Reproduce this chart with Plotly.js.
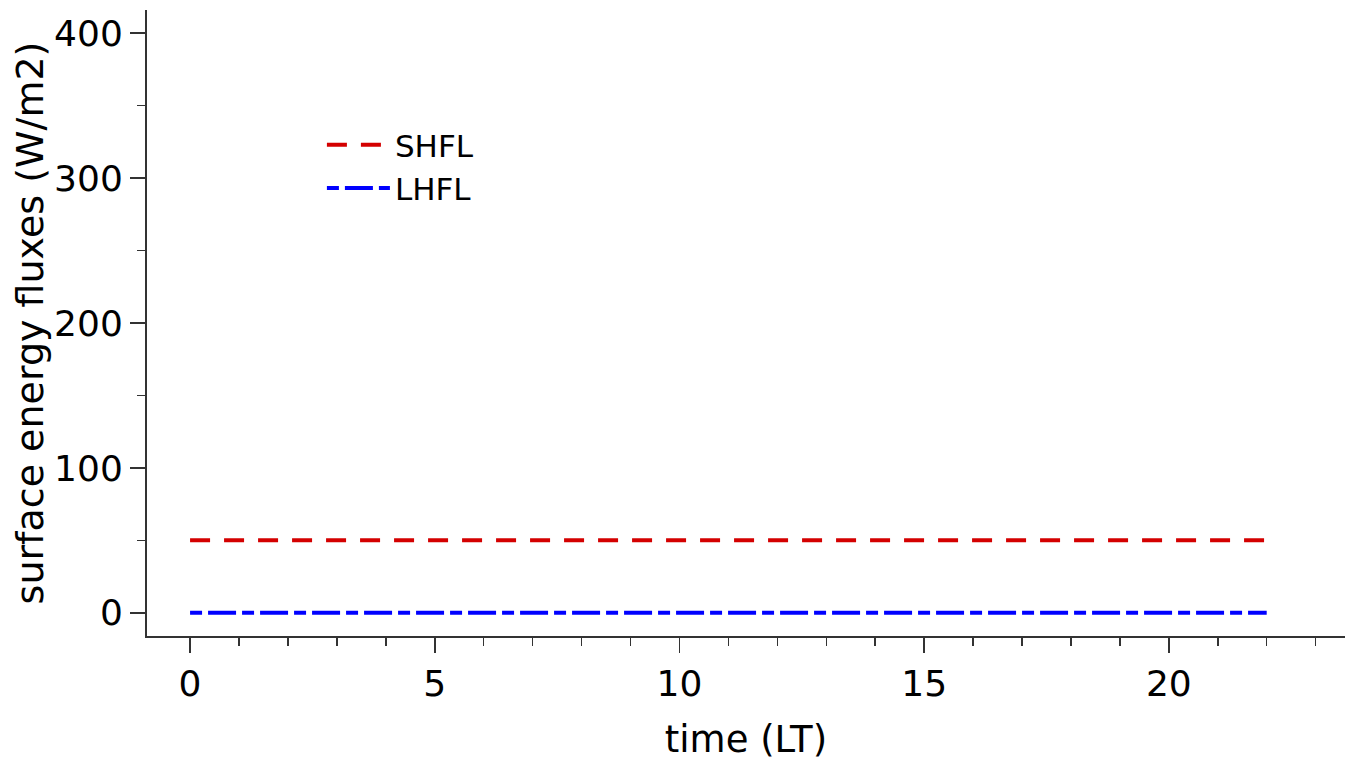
<!DOCTYPE html>
<html>
<head>
<meta charset="utf-8">
<script src="https://cdn.plot.ly/plotly-3.0.1.min.js"></script>
<style>html,body{margin:0;padding:0;background:#fff;}#chart{width:1353px;height:761px;}</style>
</head>
<body>
<div id="chart"></div>
<script>
const timeLT = [0,1,2,3,4,5,6,7,8,9,10,11,12,13,14,15,16,17,18,19,20,21,22];
const shfl = [50,50,50,50,50,50,50,50,50,50,50,50,50,50,50,50,50,50,50,50,50,50,50];
const lhfl = [0,0,0,0,0,0,0,0,0,0,0,0,0,0,0,0,0,0,0,0,0,0,0];
const seriesNames = ['SHFL','LHFL'];

const font = 'DejaVu Sans, sans-serif';
const traces = [
  {x: timeLT, y: shfl, name: seriesNames[0], mode: 'lines',
   line: {color: '#d40000', width: 4, dash: '20px,14px'}},
  {x: timeLT, y: lhfl, name: seriesNames[1], mode: 'lines',
   line: {color: '#0000ff', width: 4, dash: '12px,6px,28px,6px'}}
];
const axisCommon = {
  showgrid: false, zeroline: false, showline: true, linecolor: '#333', linewidth: 2,
  ticks: 'outside', tickcolor: '#333', tickwidth: 1.5, ticklen: 15,
  tickfont: {family: font, size: 36, color: '#000'},
  mirror: false
};
const layout = {
  width: 1353, height: 761,
  margin: {l: 147, r: 8, t: 10, b: 125},
  paper_bgcolor: '#fff', plot_bgcolor: '#fff',
  font: {family: font, color: '#000'},
  showlegend: true,
  legend: {x: 0.146, y: 0.75, xanchor: 'left', yanchor: 'middle', bgcolor: 'rgba(0,0,0,0)',
           font: {family: font, size: 31, color: '#000'}, itemwidth: 63, tracegroupgap: 0},
  xaxis: Object.assign({}, axisCommon, {
    range: [-0.88, 23.6], tickmode: 'linear', tick0: 0, dtick: 5,
    minor: {ticks: 'outside', dtick: 1, tick0: 0, ticklen: 8, tickcolor: '#333', tickwidth: 1.5},
    title: {text: 'time (LT)', font: {family: font, size: 37, color: '#000'}, standoff: 32}
  }),
  yaxis: Object.assign({}, axisCommon, {
    range: [-16, 416], tickmode: 'linear', tick0: 0, dtick: 100,
    minor: {ticks: 'outside', dtick: 50, tick0: 0, ticklen: 8, tickcolor: '#333', tickwidth: 1.5},
    title: {text: 'surface energy fluxes (W/m2)', font: {family: font, size: 38, color: '#000'}}
  })
};
Plotly.newPlot('chart', traces, layout, {displayModeBar: false, staticPlot: true});
</script>
</body>
</html>
